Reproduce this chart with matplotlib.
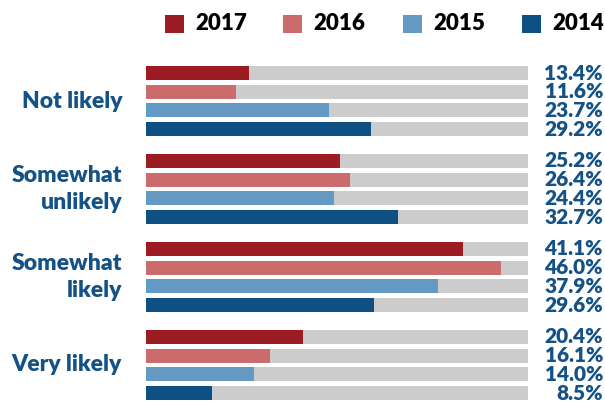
import matplotlib.pyplot as plt
from matplotlib.patches import Rectangle
from matplotlib.transforms import blended_transform_factory

# data
categories = ["Not likely", "Somewhat\nunlikely", "Somewhat\nlikely", "Very likely"]
years = ["2017", "2016", "2015", "2014"]
v2017 = [13.4, 25.2, 41.1, 20.4]
v2016 = [11.6, 26.4, 46.0, 16.1]
v2015 = [23.7, 24.4, 37.9, 14.0]
v2014 = [29.2, 32.7, 29.6, 8.5]
scale_max = 49.5

colors = ["#9b1c22", "#cc6b6c", "#6399c3", "#0e5084"]
grey = "#cccccc"
txt_blue = "#135186"

plt.rcParams['font.family'] = ['Lato', 'DejaVu Sans']

W, H = 605, 403
fig = plt.figure(figsize=(W / 100, H / 100), dpi=100)

# axes placed in pixel terms
gpitch = 4.7
n_span = 3 * gpitch + 3
top_px, bot_px = 73, 393
row_px = (bot_px - top_px) / n_span
x0, x1 = 146, 528
ax_top = top_px - row_px / 2
ax_bot = bot_px + row_px / 2
ax = fig.add_axes([x0 / W, 1 - ax_bot / H, (x1 - x0) / W, (ax_bot - ax_top) / H])
ax.set_xlim(0, scale_max)
ax.set_ylim(n_span + 0.5, -0.5)
ax.axis("off")
tr = blended_transform_factory(fig.transFigure, ax.transData)

series = [v2017, v2016, v2015, v2014]
bh = 0.75
for g, cat in enumerate(categories):
    for r, vals in enumerate(series):
        y = g * gpitch + r
        ax.barh(y, scale_max, height=bh, color=grey, linewidth=0)
        ax.barh(y, vals[g], height=bh, color=colors[r], linewidth=0)
        ax.text(603 / W, y, f"{vals[g]:.1f}%", transform=tr,
                ha="right", va="center", fontsize=15, fontweight="heavy", color=txt_blue)
    yc = g * gpitch + 1.5
    ax.text(122 / W, yc, cat, transform=tr,
            ha="right", va="center", fontsize=16.5, fontweight="heavy", color=txt_blue,
            linespacing=1.3)

# legend drawn by hand
sq_x = [165, 283, 403, 522]
for sx, yr, c in zip(sq_x, years, colors):
    fig.add_artist(Rectangle((sx / W, 1 - 33 / H), 19 / W, 18 / H, transform=fig.transFigure,
                             color=c, linewidth=0))
    fig.text((sx + 30) / W, 1 - 24 / H, yr, ha="left", va="center", fontsize=16,
             fontweight="heavy", color="black")

fig.savefig("out.png", dpi=100)
